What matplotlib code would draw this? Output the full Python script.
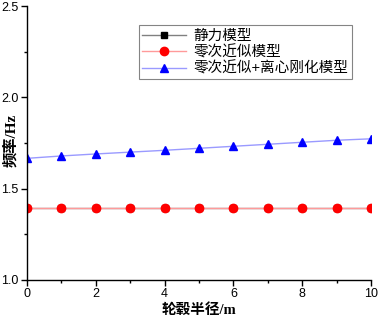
import matplotlib
matplotlib.use('Agg')
import matplotlib.pyplot as plt
from matplotlib.ticker import MultipleLocator

plt.rcParams['font.family'] = ['Liberation Sans', 'Noto Sans CJK SC']

r = [0, 1, 2, 3, 4, 5, 6, 7, 8, 9, 10]
f_static = [1.394] * 11
f_zero = [1.394] * 11
f_zero_cs = [1.666, 1.679, 1.690, 1.700, 1.710, 1.721, 1.732, 1.743, 1.754, 1.765, 1.773]

fig = plt.figure(figsize=(3.78, 3.21), dpi=100)
ax = fig.add_axes([0.0714, 0.128, 0.910, 0.853])

ax.plot(r, f_static, color='#808080', lw=1, marker='s', ms=5, mfc='black', mec='black', label='静力模型')
ax.plot(r, f_zero, color='#ff9a9a', lw=1, marker='o', ms=6, mfc='red', mec='red', label='零次近似模型')
ax.plot(r, f_zero_cs, color='#9a9aff', lw=1, marker='^', ms=6, mfc='blue', mec='blue', label='零次近似+离心刚化模型')

ax.set_xlim(0, 10)
ax.set_ylim(1.0, 2.5)
ax.xaxis.set_major_locator(MultipleLocator(2))
ax.xaxis.set_minor_locator(MultipleLocator(1))
ax.yaxis.set_major_locator(MultipleLocator(0.5))
ax.yaxis.set_minor_locator(MultipleLocator(0.25))
ax.tick_params(which='major', direction='out', length=4, width=1, labelsize=9, pad=2)
ax.tick_params(which='minor', direction='out', length=2.5, width=1)
ax.spines['top'].set_visible(False)
ax.spines['right'].set_visible(False)
for s in ('left', 'bottom'):
    ax.spines[s].set_linewidth(1)

lab_font = ['Liberation Serif', 'Noto Sans CJK SC']
ax.set_xlabel('轮毂半径/m', fontsize=10.5, fontweight='bold', family=lab_font, labelpad=2)
ax.set_ylabel('频率/Hz', fontsize=11, fontweight='bold', family=lab_font)
ax.yaxis.set_label_coords(-0.025, 0.51)

leg = ax.legend(loc='upper right', bbox_to_anchor=(0.945, 0.93), fontsize=10.5,
                frameon=True, fancybox=False, edgecolor='#666666',
                handlelength=3.0, handletextpad=0.5, borderpad=0.25,
                labelspacing=0.15, borderaxespad=0)
leg.get_frame().set_linewidth(0.8)

fig.savefig('out.png', dpi=100)
